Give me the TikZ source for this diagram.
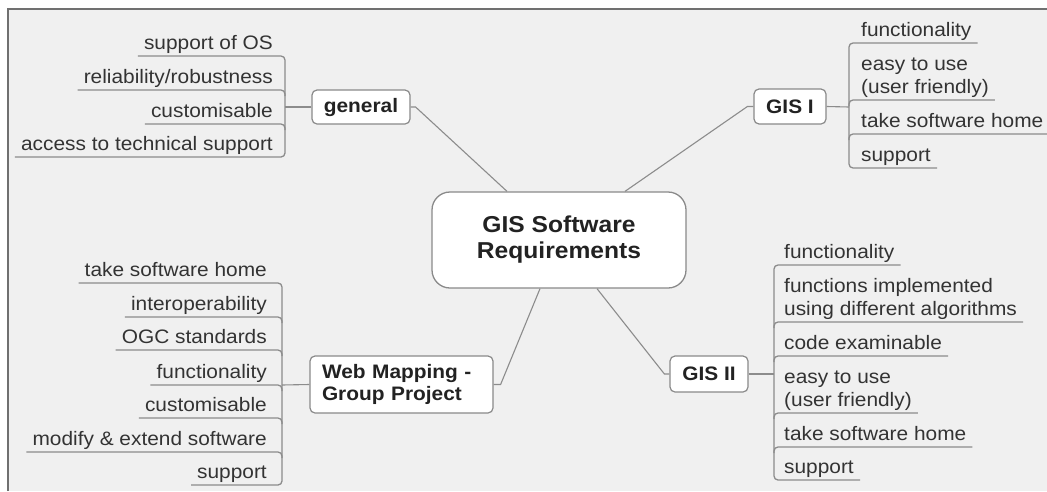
\documentclass[tikz,border=0pt]{standalone}
\usepackage{fontspec}
\setmainfont[FakeStretch=1.07]{Liberation Sans}
\definecolor{bgc}{HTML}{F0F0F0}
\definecolor{framec}{HTML}{707070}
\definecolor{linec}{HTML}{8C8C8C}
\definecolor{boxc}{HTML}{8A8A8A}
\definecolor{txtc}{HTML}{333333}
\definecolor{txtb}{HTML}{222222}
\tikzset{
  sub/.style={inner xsep=6pt, inner ysep=0pt, text depth=4.5pt, text=txtc, align=left,
    font=\fontsize{19.5}{23.5}\selectfont},
  subl/.style={sub, anchor=south east},
  subr/.style={sub, anchor=south west},
  topic/.style={draw=boxc, fill=white, rounded corners=5pt, line width=1.2pt, inner sep=0pt,
    text=txtb, font=\bfseries\fontsize{19.5}{22}\selectfont},
  central/.style={draw=boxc, fill=white, rounded corners=18pt, line width=1.3pt, inner sep=0pt,
    align=center, text=txtb, minimum width=254pt, minimum height=96pt,
    font=\bfseries\fontsize{23}{26}\selectfont},
  link/.style={draw=linec, line width=1.1pt},
  uline/.style={draw=linec, line width=1.3pt, rounded corners=4pt},
}
\begin{document}
\begin{tikzpicture}[x=1pt,y=-1pt]
\useasboundingbox (0,0) rectangle (1047,491);
\fill[white] (0,0) rectangle (1047,491);
\fill[bgc] (8,10) rectangle (1047,491);
\draw[framec, line width=2pt] (8,491) -- (8,9) -- (1047,9);

% central and main topics
\node[central] (c) at (559,240) {GIS Software\\Requirements};
\node[topic, minimum width=98pt, minimum height=34pt] (gen) at (361,107) {general};
\node[topic, minimum width=72pt, minimum height=35pt] (g1) at (790,106.5) {GIS I};
\node[topic, minimum width=78pt, minimum height=36pt] (g2) at (709,374) {GIS II};
\node[topic, minimum width=183pt, minimum height=57pt, inner xsep=12pt, text width=159pt, align=left] (web) at (401.5,384.5) {Web Mapping -\\Group Project};

\draw[link] (gen.east) -- ++(5,0) -- ([xshift=-52pt]c.north);
\draw[link] (g1.west) -- ++(-6,0) -- ([xshift=66pt]c.north);
\draw[link] (g2.west) -- ++(-5,0) -- ([xshift=38pt]c.south);
\draw[link] (web.east) -- ++(7,0) -- ([xshift=-19pt]c.south);

% general
\node[subl] (ga) at (279,54.5) {support of OS};
\node[subl] (gb) at (279,88.5) {reliability/robustness};
\node[subl] (gc) at (279,122.5) {customisable};
\node[subl] (gd) at (279,155.5) {access to technical support};
\coordinate (gbr) at (285,107);
\draw[link] (gen.west) -- (gbr);
\draw[uline] (ga.west |- 0,56) -- (285,56) -- (285,157) -- (gd.west |- 0,157);
\draw[uline] (gb.west |- 0,90) -- (285,90) -- (285,96);
\draw[uline] (gc.west |- 0,124) -- (285,124) -- (285,130);

% GIS I
\node[subr] (ia) at (855,41.5) {functionality};
\node[subr] (ib) at (855,98.5) {easy to use\\(user friendly)};
\node[subr] (ic) at (855,132.5) {take software home};
\node[subr] (id) at (855,166.5) {support};
\coordinate (ibr) at (849,107);
\draw[link] (g1.east) -- (ibr);
\draw[uline] (ia.east |- 0,43) -- (849,43) -- (849,168) -- (id.east |- 0,168);
\draw[uline] (ib.east |- 0,100) -- (849,100) -- (849,106);
\draw[uline] (ic.east |- 0,134) -- (849,134) -- (849,140);

% GIS II
\node[subr] (ja) at (778,263.5) {functionality};
\node[subr] (jb) at (778,320.5) {functions implemented\\using different algorithms};
\node[subr] (jc) at (778,354.5) {code examinable};
\node[subr] (jd) at (778,411.5) {easy to use\\(user friendly)};
\node[subr] (je) at (778,445.5) {take software home};
\node[subr] (jf) at (778,478.5) {support};
\coordinate (jbr) at (774,374);
\draw[link] (g2.east) -- (jbr);
\draw[uline] (ja.east |- 0,265) -- (774,265) -- (774,480) -- (jf.east |- 0,480);
\draw[uline] (jb.east |- 0,322) -- (774,322) -- (774,328);
\draw[uline] (jc.east |- 0,356) -- (774,356) -- (774,362);
\draw[uline] (jd.east |- 0,413) -- (774,413) -- (774,419);
\draw[uline] (je.east |- 0,447) -- (774,447) -- (774,453);

% Web Mapping
\node[subl] (wa) at (273,281.5) {take software home};
\node[subl] (wb) at (273,315.5) {interoperability};
\node[subl] (wc) at (273,348.5) {OGC standards};
\node[subl] (wd) at (273,383.5) {functionality};
\node[subl] (we) at (273,416.5) {customisable};
\node[subl] (wf) at (273,450.5) {modify \& extend software};
\node[subl] (wg) at (273,483.5) {support};
\coordinate (wbr) at (282,385);
\draw[link] (web.west) -- (wbr);
\draw[uline] (wa.west |- 0,283) -- (282,283) -- (282,485) -- (wg.west |- 0,485);
\draw[uline] (wb.west |- 0,317) -- (282,317) -- (282,323);
\draw[uline] (wc.west |- 0,350) -- (282,350) -- (282,356);
\draw[uline] (wd.west |- 0,385) -- (282,385) -- (282,391);
\draw[uline] (we.west |- 0,418) -- (282,418) -- (282,424);
\draw[uline] (wf.west |- 0,452) -- (282,452) -- (282,458);
\end{tikzpicture}
\end{document}
